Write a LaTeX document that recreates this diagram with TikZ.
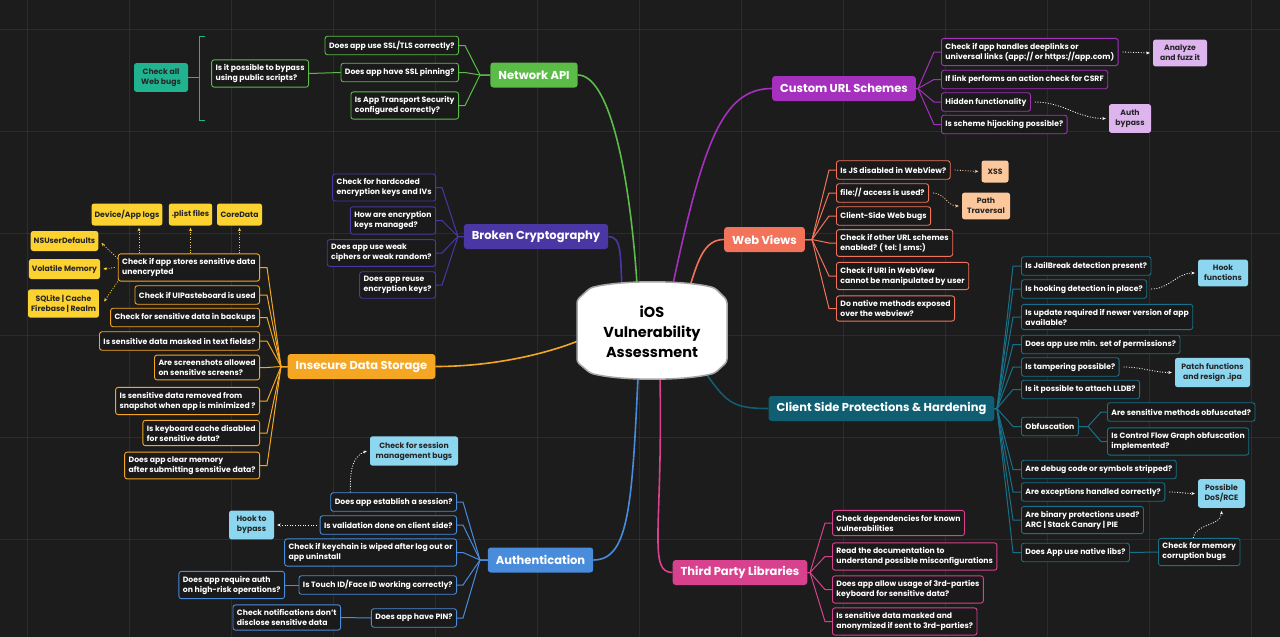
\documentclass[tikz,border=0pt]{standalone}
\usepackage{fontspec}
\setmainfont{Poppins}
\usetikzlibrary{arrows.meta}
\definecolor{bg}{HTML}{1C1C1C}
\definecolor{leafbg}{HTML}{1A1A1A}
\definecolor{netgreen}{HTML}{5CBC48}
\definecolor{webteal}{HTML}{1FB38F}
\definecolor{cryptoviolet}{HTML}{4B37A3}
\definecolor{storeorange}{HTML}{F5A623}
\definecolor{noteyellow}{HTML}{FCD230}
\definecolor{authblue}{HTML}{4A8CDC}
\definecolor{noteblue}{HTML}{8DD6F0}
\definecolor{urlmagenta}{HTML}{A530BE}
\definecolor{notelilac}{HTML}{DDB4EE}
\definecolor{webcoral}{HTML}{F2735A}
\definecolor{notepeach}{HTML}{FCC89B}
\definecolor{guardteal}{HTML}{0F5E72}
\definecolor{guardline}{HTML}{17718A}
\definecolor{libpink}{HTML}{D8418E}
\newcommand\leaffont{\fontsize{7.7}{10}\selectfont\bfseries}
\newcommand\notefont{\fontsize{7.7}{10}\selectfont\bfseries}
\newcommand\branchfont{\fontsize{11.5}{13}\selectfont\bfseries}
\newcommand\hubfont{\fontsize{14.5}{20}\selectfont\bfseries}
\tikzset{
  leaf/.style={draw=#1, line width=0.9pt, rounded corners=2.5pt, fill=leafbg, text=white,
    font=\leaffont, align=left, inner xsep=4pt, inner ysep=4.5pt, minimum height=18.5pt},
  branch/.style={fill=#1, rounded corners=3pt, text=white, font=\branchfont,
    minimum height=25pt, inner xsep=8pt},
  note/.style={fill=#1, rounded corners=2.5pt, text=black!85, font=\notefont,
    align=center, inner xsep=3pt, inner ysep=5.5pt, minimum height=22pt},
  link/.style={draw=#1, line width=1pt},
  trunk/.style={draw=#1, line width=1.6pt},
  hint/.style={draw=#1, line width=0.8pt, dash pattern=on 1pt off 1.6pt, -{Stealth[length=3.5pt,width=3pt]}},
  gridline/.style={draw=white, opacity=0.07, line width=0.8pt}
}
\begin{document}
\begin{tikzpicture}[x=1pt,y=-1pt]
\useasboundingbox (0,0) rectangle (1280,637);
\fill[bg] (0,0) rectangle (1280,637);
\foreach \i in {0,...,12} \draw[gridline] (27+102*\i,0) -- (27+102*\i,637);
\foreach \j in {0,...,6} \draw[gridline] (0,29+102*\j) -- (1280,29+102*\j);

% Network API
\node[branch=netgreen] (na) at (534,75) {Network API};
\node[leaf=netgreen,anchor=east] (na1) at (459,45.5) {Does app use SSL/TLS correctly?};
\node[leaf=netgreen,anchor=east] (na2) at (459,72.5) {Does app have SSL pinning?};
\node[leaf=netgreen,anchor=east] (na3) at (459,105.5) {Is App Transport Security\\ configured correctly?};
\node[leaf=netgreen,anchor=east] (na4) at (309,73.5) {Is it possible to bypass\\ using public scripts?};
\node[note=webteal,minimum width=54pt,minimum height=27pt] (nac) at (161,77.5) {Check all\\ Web bugs};
\coordinate (naj) at (480,75);
\coordinate (brk) at (199,77.5);
\foreach \n in {na1,na2,na3} \draw[link=netgreen] (\n.east) -- ++(6,0) -- (naj) -- (na.west);
\draw[link=netgreen] (na4.east) -- (na2.west);
\draw[link=webteal] (205,36) -- (199,36) -- (199,120) -- (205,120);
\draw[link=webteal] (nac.east) -- (brk);

% Broken Cryptography
\node[branch=cryptoviolet] (bc) at (536,236.5) {Broken Cryptography};
\node[leaf=cryptoviolet,anchor=east] (bc1) at (436,187.5) {Check for hardcoded\\ encryption keys and IVs};
\node[leaf=cryptoviolet,anchor=east] (bc2) at (436,220.5) {How are encryption\\ keys managed?};
\node[leaf=cryptoviolet,anchor=east] (bc3) at (436,253) {Does app use weak\\ ciphers or weak random?};
\node[leaf=cryptoviolet,anchor=east] (bc4) at (436,285) {Does app reuse\\ encryption keys?};
\coordinate (bcj) at (458,236.5);
\foreach \n in {bc1,bc2,bc3,bc4} \draw[link=cryptoviolet] (\n.east) -- ++(6,0) -- (bcj) -- (bc.west);

% Insecure Data Storage
\node[branch=storeorange] (ids) at (361.5,366.5) {Insecure Data Storage};
\node[leaf=storeorange,anchor=east] (ids1) at (260,267.5) {Check if app stores sensitive data\\ unencrypted};
\node[leaf=storeorange,anchor=east] (ids2) at (260,295) {Check if UIPasteboard is used};
\node[leaf=storeorange,anchor=east] (ids3) at (260,317.5) {Check for sensitive data in backups};
\node[leaf=storeorange,anchor=east] (ids4) at (260,341) {Is sensitive data masked in text fields?};
\node[leaf=storeorange,anchor=east] (ids5) at (260,367.5) {Are screenshots allowed\\ on sensitive screens?};
\node[leaf=storeorange,anchor=east] (ids6) at (260,401) {Is sensitive data removed from\\ snapshot when app is minimized ?};
\node[leaf=storeorange,anchor=east] (ids7) at (260,433) {Is keyboard cache disabled\\ for sensitive data?};
\node[leaf=storeorange,anchor=east] (ids8) at (260,465.5) {Does app clear memory\\ after submitting sensitive data?};
\coordinate (idsj) at (281,366.5);
\foreach \n in {ids1,ids2,ids3,ids4,ids5,ids6,ids7,ids8} \draw[link=storeorange] (\n.east) -- ++(7,0) -- (idsj) -- (ids.west);
\node[note=noteyellow,minimum width=60pt] (y1) at (127,214.5) {Device/App logs};
\node[note=noteyellow,minimum width=43pt] (y2) at (190.5,214.5) {.plist files};
\node[note=noteyellow,minimum width=45pt] (y3) at (239.5,214.5) {CoreData};
\node[note=noteyellow,minimum width=67pt,minimum height=20pt] (y4) at (64.5,241) {NSUserDefaults};
\node[note=noteyellow,minimum width=67pt,minimum height=20pt] (y5) at (64.5,269) {Volatile Memory};
\node[note=noteyellow,minimum width=69pt] (y6) at (63.5,303.5) {SQLite | Cache\\ Firebase | Realm};
\draw[hint=noteyellow] ([xshift=12pt]y1.south |- ids1.north) -- ([xshift=12pt,yshift=-2pt]y1.south);
\draw[hint=noteyellow] (y2.south |- ids1.north) -- ([yshift=-2pt]y2.south);
\draw[hint=noteyellow] (y3.south |- ids1.north) -- ([yshift=-2pt]y3.south);
\draw[hint=noteyellow] ([yshift=9pt]ids1.west) -- ([xshift=3pt,yshift=-2pt]y4.east);
\draw[hint=noteyellow] ([xshift=-3pt]ids1.west) -- ([xshift=3pt]y5.east);
\draw[hint=noteyellow] ([yshift=-14pt]ids1.west) -- ([xshift=5pt,yshift=2pt]y6.east);

% Authentication
\node[branch=authblue] (au) at (540.5,560) {Authentication};
\node[leaf=authblue,anchor=east] (au1) at (457,502) {Does app establish a session?};
\node[leaf=authblue,anchor=east] (au2) at (457,525) {Is validation done on client side?};
\node[leaf=authblue,anchor=east] (au3) at (457,552.5) {Check if keychain is wiped after log out or\\ app uninstall};
\node[leaf=authblue,anchor=east] (au4) at (457,585) {Is Touch ID/Face ID working correctly?};
\node[leaf=authblue,anchor=east] (au5) at (457,618) {Does app have PIN?};
\node[leaf=authblue,anchor=east] (ra) at (285,585) {Does app require auth\\ on high-risk operations?};
\node[leaf=authblue,anchor=east] (cn) at (341,617.5) {Check notifications don't\\ disclose sensitive data};
\node[note=noteblue,minimum width=88pt] (sm) at (414,451) {Check for session\\ management bugs};
\node[note=noteblue,minimum width=45pt] (hb) at (251.5,525) {Hook to\\ bypass};
\coordinate (auj) at (480,560);
\foreach \n in {au1,au2,au3,au4,au5} \draw[link=authblue] (\n.east) -- ++(6,0) -- (auj) -- (au.west);
\draw[link=authblue] (au4.west) -- (ra.east);
\draw[link=authblue] (au5.west) -- (cn.east);
\draw[hint=white!85] ([xshift=20pt]au1.north west) to[out=90,in=200] ([xshift=-3pt]sm.west);
\draw[hint=white!85] ([xshift=-3pt]au2.west) -- ([xshift=3pt]hb.east);

% Custom URL Schemes
\node[branch=urlmagenta] (cu) at (844,88.5) {Custom URL Schemes};
\node[leaf=urlmagenta,anchor=west] (cu1) at (941,52) {Check if app handles deeplinks or\\ universal links (app:// or https://app.com)};
\node[leaf=urlmagenta,anchor=west] (cu2) at (941,79.5) {If link performs an action check for CSRF};
\node[leaf=urlmagenta,anchor=west] (cu3) at (941,102) {Hidden functionality};
\node[leaf=urlmagenta,anchor=west] (cu4) at (941,124.5) {Is scheme hijacking possible?};
\node[note=notelilac,minimum width=54pt] (az) at (1180,53) {Analyze\\ and fuzz it};
\node[note=notelilac,minimum width=42pt] (ab) at (1130,118.5) {Auth\\ bypass};
\coordinate (cuj) at (918,88.5);
\foreach \n in {cu1,cu2,cu3,cu4} \draw[link=urlmagenta] (cu.east) -- (cuj) -- ([xshift=-7pt]\n.west) -- (\n.west);
\draw[hint=white!85] ([xshift=4pt]cu1.east) -- ([xshift=-3pt]az.west);
\draw[hint=white!85] ([xshift=4pt]cu3.east) to[out=0,in=180] ([xshift=-3pt]ab.west);

% Web Views
\node[branch=webcoral] (wv) at (764.5,239.5) {Web Views};
\node[leaf=webcoral,anchor=west] (wv1) at (836,170) {Is JS disabled in WebView?};
\node[leaf=webcoral,anchor=west] (wv2) at (836,193) {file:// access is used?};
\node[leaf=webcoral,anchor=west] (wv3) at (836,216) {Client-Side Web bugs};
\node[leaf=webcoral,anchor=west] (wv4) at (836,243) {Check if other URL schemes\\ enabled? ( tel: | sms:)};
\node[leaf=webcoral,anchor=west] (wv5) at (836,276) {Check if URI in WebView\\ cannot be manipulated by user};
\node[leaf=webcoral,anchor=west] (wv6) at (836,308.5) {Do native methods exposed\\ over the webview?};
\node[note=notepeach,minimum width=27pt] (xss) at (995,171.5) {XSS};
\node[note=notepeach,minimum width=48pt] (pt) at (986,206) {Path\\ Traversal};
\coordinate (wvj) at (812,239.5);
\foreach \n in {wv1,wv2,wv3,wv4,wv5,wv6} \draw[link=webcoral] (wv.east) -- (wvj) -- ([xshift=-7pt]\n.west) -- (\n.west);
\draw[hint=notepeach] ([xshift=4pt]wv1.east) -- ([xshift=-3pt]xss.west);
\draw[hint=notepeach] ([xshift=4pt]wv2.east) to[out=0,in=180] ([xshift=-3pt]pt.west);

% Client Side Protections & Hardening
\node[branch=guardteal] (cs) at (881.5,408.5) {Client Side Protections \& Hardening};
\node[leaf=guardline,anchor=west] (cs1) at (1021,266) {Is JailBreak detection present?};
\node[leaf=guardline,anchor=west] (cs2) at (1021,289) {Is hooking detection in place?};
\node[leaf=guardline,anchor=west] (cs3) at (1021,317) {Is update required if newer version of app\\ available?};
\node[leaf=guardline,anchor=west] (cs4) at (1021,344.5) {Does app use min. set of permissions?};
\node[leaf=guardline,anchor=west] (cs5) at (1021,367) {Is tampering possible?};
\node[leaf=guardline,anchor=west] (cs6) at (1021,389.5) {Is it possible to attach LLDB?};
\node[leaf=guardline,anchor=west] (cs7) at (1021,426.5) {Obfuscation};
\node[leaf=guardline,anchor=west] (cs8) at (1021,469.5) {Are debug code or symbols stripped?};
\node[leaf=guardline,anchor=west] (cs9) at (1021,492) {Are exceptions handled correctly?};
\node[leaf=guardline,anchor=west] (cs10) at (1021,520) {Are binary protections used?\\ ARC | Stack Canary | PIE};
\node[leaf=guardline,anchor=west] (cs11) at (1021,552.5) {Does App use native libs?};
\node[leaf=guardline,anchor=west] (ob1) at (1107,412) {Are sensitive methods obfuscated?};
\node[leaf=guardline,anchor=west] (ob2) at (1107,441.5) {Is Control Flow Graph obfuscation\\ implemented?};
\node[leaf=guardline,anchor=west] (mem) at (1158,552) {Check for memory\\ corruption bugs};
\node[note=noteblue,minimum width=50pt] (hf) at (1223,273) {Hook\\ functions};
\node[note=noteblue,minimum width=75pt] (pf) at (1212.5,372.5) {Patch functions\\ and resign .ipa};
\node[note=noteblue,minimum width=47pt] (dos) at (1221.5,493.5) {Possible\\ DoS/RCE};
\coordinate (csj) at (997,408.5);
\coordinate (obj) at (1088,426.5);
\foreach \n in {cs1,cs2,cs3,cs4,cs5,cs6,cs7,cs8,cs9,cs10,cs11} \draw[link=guardline] (cs.east) -- (csj) -- ([xshift=-8pt]\n.west) -- (\n.west);
\foreach \n in {ob1,ob2} \draw[link=guardline] (cs7.east) -- (obj) -- ([xshift=-6pt]\n.west) -- (\n.west);
\draw[link=guardline] (cs11.east) -- (mem.west);
\draw[hint=white!85] ([xshift=4pt]cs2.east) to[out=0,in=180] ([xshift=-3pt]hf.west);
\draw[hint=white!85] ([xshift=4pt]cs5.east) to[out=0,in=180] ([xshift=-3pt]pf.west);
\draw[hint=white!85] ([xshift=4pt]cs9.east) to[out=0,in=180] ([xshift=-3pt]dos.west);
\draw[hint=white!85] ([xshift=-6pt]mem.north) to[out=80,in=-90] ([yshift=-3pt]dos.south);

% Third Party Libraries
\node[branch=libpink] (tp) at (740,572.5) {Third Party Libraries};
\node[leaf=libpink,anchor=west] (tp1) at (832,523) {Check dependencies for known\\ vulnerabilities};
\node[leaf=libpink,anchor=west] (tp2) at (832,556.5) {Read the documentation to\\ understand possible misconfigurations};
\node[leaf=libpink,anchor=west] (tp3) at (832,589.5) {Does app allow usage of 3rd-parties\\ keyboard for sensitive data?};
\node[leaf=libpink,anchor=west] (tp4) at (832,621.5) {Is sensitive data masked and\\ anonymized if sent to 3rd-parties?};
\coordinate (tpj) at (810,572.5);
\foreach \n in {tp1,tp2,tp3,tp4} \draw[link=libpink] (tp.east) -- (tpj) -- ([xshift=-7pt]\n.west) -- (\n.west);

% hub
\coordinate (hg) at (637,284);
\coordinate (hv) at (622,287);
\coordinate (hm) at (673,284);
\coordinate (hc) at (690,286);
\coordinate (ho) at (578,341);
\coordinate (hb1) at (638,377);
\coordinate (hp) at (660,378);
\coordinate (ht) at (707,375);
\draw[trunk=netgreen] (na.east) .. controls +(30,0) and +(-8,-120) .. (hg);
\draw[trunk=cryptoviolet] (bc.east) .. controls +(14,0) and +(-2,-30) .. (hv);
\draw[trunk=urlmagenta] (cu.west) .. controls +(-50,0) and +(30,-140) .. (hm);
\draw[trunk=webcoral] (wv.west) .. controls +(-20,0) and +(8,-25) .. (hc);
\draw[trunk=storeorange] (ids.east) .. controls +(60,0) and +(-30,12) .. (ho);
\draw[trunk=authblue] (hb1) .. controls +(-6,130) and +(35,0) .. (au.east);
\draw[trunk=libpink] (hp) .. controls +(3,150) and +(-25,0) .. (tp.west);
\draw[trunk=guardteal] (ht) .. controls +(20,28) and +(-35,0) .. (cs.west);
\draw[fill=white, draw=black!35, line width=1.5pt, rounded corners=3pt] (577,300) -- (590,288) .. controls (620,280) and (685,280) .. (715,288) -- (727,300) -- (727,362) -- (715,373) .. controls (685,381) and (620,381) .. (590,373) -- (577,362) -- cycle;
\node[font=\hubfont, align=center, text=black] (hub) at (652,332) {iOS\\ Vulnerability\\ Assessment};
\end{tikzpicture}
\end{document}
